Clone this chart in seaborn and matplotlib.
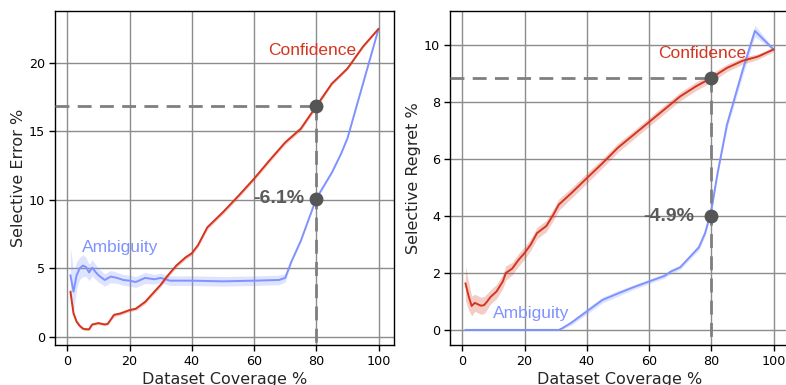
import numpy as np
import pandas as pd
import matplotlib
matplotlib.use("Agg")
import matplotlib.pyplot as plt
import seaborn as sns

# ---------------- data ----------------
err_conf_x = [1, 2, 3, 4, 5, 6, 7, 8, 10, 12, 13, 15, 17, 20, 22, 25, 28, 30, 32, 35, 38, 40, 42, 45, 50, 55, 60, 65, 70, 75, 80, 85, 90, 95, 100]
err_conf_y = [3.3, 1.7, 1.1, 0.8, 0.6, 0.55, 0.55, 0.9, 1.0, 0.9, 0.95, 1.6, 1.7, 1.95, 2.05, 2.55, 3.3, 3.8, 4.4, 5.2, 5.8, 6.1, 6.7, 8.0, 9.1, 10.3, 11.55, 12.9, 14.2, 15.2, 16.85, 18.5, 19.6, 21.2, 22.5]
err_conf_ci = [0.25, 0.2, 0.15, 0.12, 0.1, 0.1, 0.1, 0.1, 0.1, 0.1, 0.1, 0.12, 0.12, 0.12, 0.12, 0.15, 0.15, 0.15, 0.15, 0.15, 0.15, 0.15, 0.15, 0.15, 0.15, 0.15, 0.15, 0.15, 0.15, 0.15, 0.15, 0.12, 0.1, 0.08, 0.05]

err_amb_x = [1, 2, 3, 4, 5, 6, 7, 8, 9, 10, 12, 14, 16, 18, 20, 22, 25, 28, 30, 33, 40, 50, 60, 68, 70, 72, 75, 80, 85, 88, 90, 95, 100]
err_amb_y = [4.5, 3.3, 4.5, 5.0, 5.2, 5.1, 4.7, 5.05, 4.75, 4.5, 4.15, 4.4, 4.3, 4.15, 4.1, 4.0, 4.3, 4.2, 4.3, 4.1, 4.1, 4.05, 4.1, 4.15, 4.3, 5.5, 7.0, 10.1, 12.0, 13.4, 14.5, 18.5, 22.5]
err_amb_ci = [2.0, 1.5, 1.0, 0.8, 0.8, 0.7, 0.6, 0.6, 0.55, 0.5, 0.45, 0.45, 0.4, 0.4, 0.4, 0.4, 0.4, 0.35, 0.35, 0.35, 0.35, 0.35, 0.35, 0.35, 0.3, 0.1, 0.05, 0.05, 0.05, 0.05, 0.05, 0.05, 0.05]

reg_conf_x = [1, 2, 3, 4, 5, 6, 7, 8, 9, 11, 13, 14, 16, 18, 20, 22, 24, 27, 29, 31, 35, 40, 45, 50, 55, 60, 65, 70, 75, 80, 85, 90, 95, 100]
reg_conf_y = [1.64, 1.2, 0.84, 0.95, 0.9, 0.85, 0.87, 1.0, 1.15, 1.35, 1.7, 2.0, 2.15, 2.45, 2.7, 3.0, 3.4, 3.65, 4.0, 4.4, 4.8, 5.33, 5.85, 6.4, 6.85, 7.3, 7.75, 8.2, 8.55, 8.85, 9.2, 9.45, 9.6, 9.85]
reg_conf_ci = [0.6, 0.5, 0.35, 0.3, 0.3, 0.3, 0.3, 0.28, 0.25, 0.25, 0.25, 0.25, 0.22, 0.22, 0.22, 0.2, 0.2, 0.2, 0.2, 0.2, 0.18, 0.18, 0.16, 0.16, 0.15, 0.15, 0.15, 0.15, 0.15, 0.15, 0.13, 0.12, 0.1, 0.08]

reg_amb_x = [1, 10, 20, 31, 32, 35, 40, 45, 50, 55, 60, 65, 67, 70, 73, 76, 78, 80, 82, 85, 90, 94, 100]
reg_amb_y = [0.0, 0.0, 0.0, 0.0, 0.05, 0.25, 0.65, 1.05, 1.28, 1.5, 1.7, 1.9, 2.05, 2.2, 2.55, 2.9, 3.4, 4.2, 5.5, 7.2, 9.1, 10.5, 9.85]
reg_amb_ci = [0.0, 0.0, 0.0, 0.0, 0.03, 0.08, 0.1, 0.1, 0.1, 0.08, 0.08, 0.08, 0.08, 0.08, 0.08, 0.1, 0.1, 0.1, 0.1, 0.15, 0.2, 0.2, 0.05]

conf_color = "#d4351f"
amb_color = "#7f93ff"
dot_color = "#555555"
dash_color = "#7f7f7f"

sns.set_style("white")
plt.rcParams["font.family"] = ["DejaVu Sans"]

fig = plt.figure(figsize=(7.86, 3.85), dpi=100)
W, H = 786.0, 385.0
ax1 = fig.add_axes([55 / W, 40 / H, 339 / W, 334 / H])
ax2 = fig.add_axes([450 / W, 40 / H, 339 / W, 334 / H])


def panel(ax, cx, cy, cci, axx, ay, aci, ylim, yticks, ylabel, hy, ly, txt, txt_x,
          conf_lab, amb_lab):
    for x, y, ci, col in [(axx, ay, aci, amb_color), (cx, cy, cci, conf_color)]:
        x = np.array(x); y = np.array(y); ci = np.array(ci)
        ax.fill_between(x, y - ci, y + ci, color=col, alpha=0.25, lw=0, zorder=2)
        df = pd.DataFrame({"x": x, "y": y})
        sns.lineplot(data=df, x="x", y="y", ax=ax, color=col, lw=1.4, zorder=3)
    ax.set_xlim(-3.95, 104.95)
    ax.set_ylim(*ylim)
    ax.set_xticks([0, 20, 40, 60, 80, 100])
    ax.set_yticks(yticks)
    ax.grid(True, color="#8c8c8c", lw=1.0, zorder=0)
    ax.set_axisbelow(True)
    for s in ax.spines.values():
        s.set_color("black"); s.set_linewidth(1.0)
    ax.tick_params(direction="out", length=4, width=1, colors="black",
                   labelsize=9.2, bottom=True, left=True, pad=3)
    ax.set_xlabel("Dataset Coverage %", fontsize=11.5, labelpad=3)
    ax.set_ylabel(ylabel, fontsize=11.5, labelpad=2)
    # annotations
    ax.plot([-3.95, 80], [hy, hy], ls=(0, (5, 3)), color=dash_color, lw=2, zorder=4)
    ax.plot([80, 80], [hy, ylim[0]], ls=(0, (5, 3)), color=dash_color, lw=2, zorder=4)
    ax.scatter([80, 80], [hy, ly], s=100, color=dot_color, zorder=6, lw=0)
    ax.text(txt_x, ly, txt, ha="right", va="center", fontsize=14, fontweight="bold",
            color="#5a5a5a", family=["Liberation Sans"], zorder=7)
    ax.text(*conf_lab, "Confidence", color=conf_color, fontsize=12.5,
            family=["Liberation Sans"], ha="left", va="center", zorder=7)
    ax.text(*amb_lab, "Ambiguity", color=amb_color, fontsize=12.5,
            family=["Liberation Sans"], ha="left", va="center", zorder=7)


panel(ax1, err_conf_x, err_conf_y, err_conf_ci, err_amb_x, err_amb_y, err_amb_ci,
      (-0.6, 23.8), [0, 5, 10, 15, 20], "Selective Error %", 16.85, 10.1, "-6.1%", 76.3,
      (64.5, 20.9), (4.8, 6.5))
panel(ax2, reg_conf_x, reg_conf_y, reg_conf_ci, reg_amb_x, reg_amb_y, reg_amb_ci,
      (-0.53, 11.2), [0, 2, 4, 6, 8, 10], "Selective Regret %", 8.85, 4.0, "-4.9%", 74.5,
      (62.8, 9.69), (9.9, 0.56))

fig.savefig("out.png", dpi=100)
